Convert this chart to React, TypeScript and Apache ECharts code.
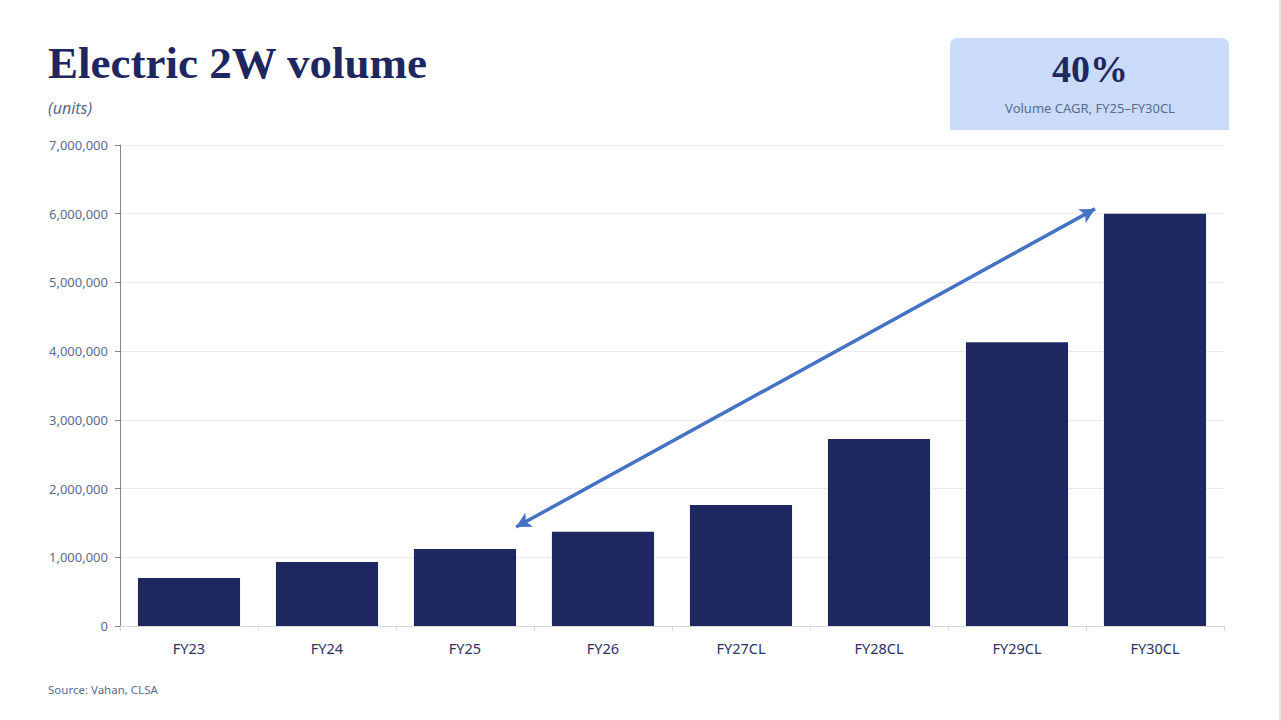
import React, { useEffect, useRef } from "react";
import * as echarts from "echarts";

const categories = ["FY23", "FY24", "FY25", "FY26", "FY27CL", "FY28CL", "FY29CL", "FY30CL"];
const volumes = [700000, 930000, 1120000, 1370000, 1760000, 2720000, 4130000, 6000000];
const yTicks = [0, 1000000, 2000000, 3000000, 4000000, 5000000, 6000000, 7000000];
// arrow annotation endpoints: [category position (0..8), value]
const arrowStart = [2.87, 1440000];
const arrowEnd = [7.065, 6070000];

const TITLE = "Electric 2W volume";
const UNITS = "(units)";
const CAGR = "40%";
const CAGR_LABEL = "Volume CAGR, FY25\u2013FY30CL";
const SOURCE = "Source: Vahan, CLSA";

const NAVY = "#1F2761";
const GREYBLUE = "#5B6B8C";
const SANS = "'Noto Sans', sans-serif";
const SERIF = "'Liberation Serif', serif";

export default function App() {
  const ref = useRef<HTMLDivElement>(null);
  useEffect(() => {
    if (!ref.current) return;
    const chart = echarts.init(ref.current, undefined, { renderer: "svg" });
    chart.setOption({
      animation: false,
      backgroundColor: "#ffffff",
      grid: { left: 120, right: 57, top: 145, bottom: 94 },
      xAxis: [
        {
          type: "category",
          data: categories,
          axisLine: { lineStyle: { color: "#D9D9D9", width: 1 } },
          axisTick: { show: true, length: 5, lineStyle: { color: "#D9D9D9" } },
          axisLabel: { color: "#2B3366", fontFamily: SANS, fontSize: 14.5, margin: 14 },
          splitLine: { show: false },
        },
        { type: "value", min: 0, max: 8, show: false },
      ],
      yAxis: {
        type: "value",
        min: yTicks[0],
        max: yTicks[yTicks.length - 1],
        interval: 1000000,
        axisLine: { show: true, lineStyle: { color: "#868686" } },
        axisTick: { show: true, length: 5, lineStyle: { color: "#868686" } },
        axisLabel: {
          color: GREYBLUE,
          fontFamily: SANS,
          fontSize: 13,
          margin: 12,
          formatter: (v: number) => v.toLocaleString("en-US"),
        },
        splitLine: { lineStyle: { color: "#EBEBEB" } },
      },
      series: [
        {
          type: "bar",
          data: volumes,
          barCategoryGap: "26%",
          itemStyle: { color: NAVY },
          silent: true,
        },
        {
          type: "line",
          xAxisIndex: 1,
          data: [],
          silent: true,
          markLine: {
            silent: true,
            symbol: ["arrow", "arrow"],
            symbolSize: [12, 15],
            label: { show: false },
            lineStyle: { color: "#4472C4", width: 3.5, type: "solid" },
            data: [[{ coord: arrowStart }, { coord: arrowEnd }]],
          },
        },
      ],
      graphic: [
        {
          type: "text",
          left: 48,
          top: 40,
          style: { text: TITLE, font: `bold 45px ${SERIF}`, fill: NAVY },
        },
        {
          type: "text",
          left: 48,
          top: 100,
          style: { text: UNITS, font: `italic 16px ${SANS}`, fill: GREYBLUE },
        },
        {
          type: "rect",
          shape: { x: 950, y: 38, width: 279, height: 92, r: [7, 7, 0, 0] },
          style: { fill: "#C9DBF8" },
        },
        {
          type: "text",
          x: 1090,
          y: 50,
          style: { text: CAGR, font: `bold 38px ${SERIF}`, fill: NAVY, align: "center" },
        },
        {
          type: "text",
          x: 1090,
          y: 101,
          style: { text: CAGR_LABEL, font: `13px ${SANS}`, fill: GREYBLUE, align: "center" },
        },
        {
          type: "text",
          left: 48,
          top: 683,
          style: { text: SOURCE, font: `11.5px ${SANS}`, fill: GREYBLUE },
        },
        {
          type: "line",
          shape: { x1: 1280, y1: 0, x2: 1280, y2: 720 },
          style: { stroke: "#D0D0D0", lineWidth: 1 },
        },
      ],
    });
    return () => chart.dispose();
  }, []);
  return (
    <div
      ref={ref}
      style={{ position: "absolute", left: 0, top: 0, width: 1281, height: 720 }}
    />
  );
}
